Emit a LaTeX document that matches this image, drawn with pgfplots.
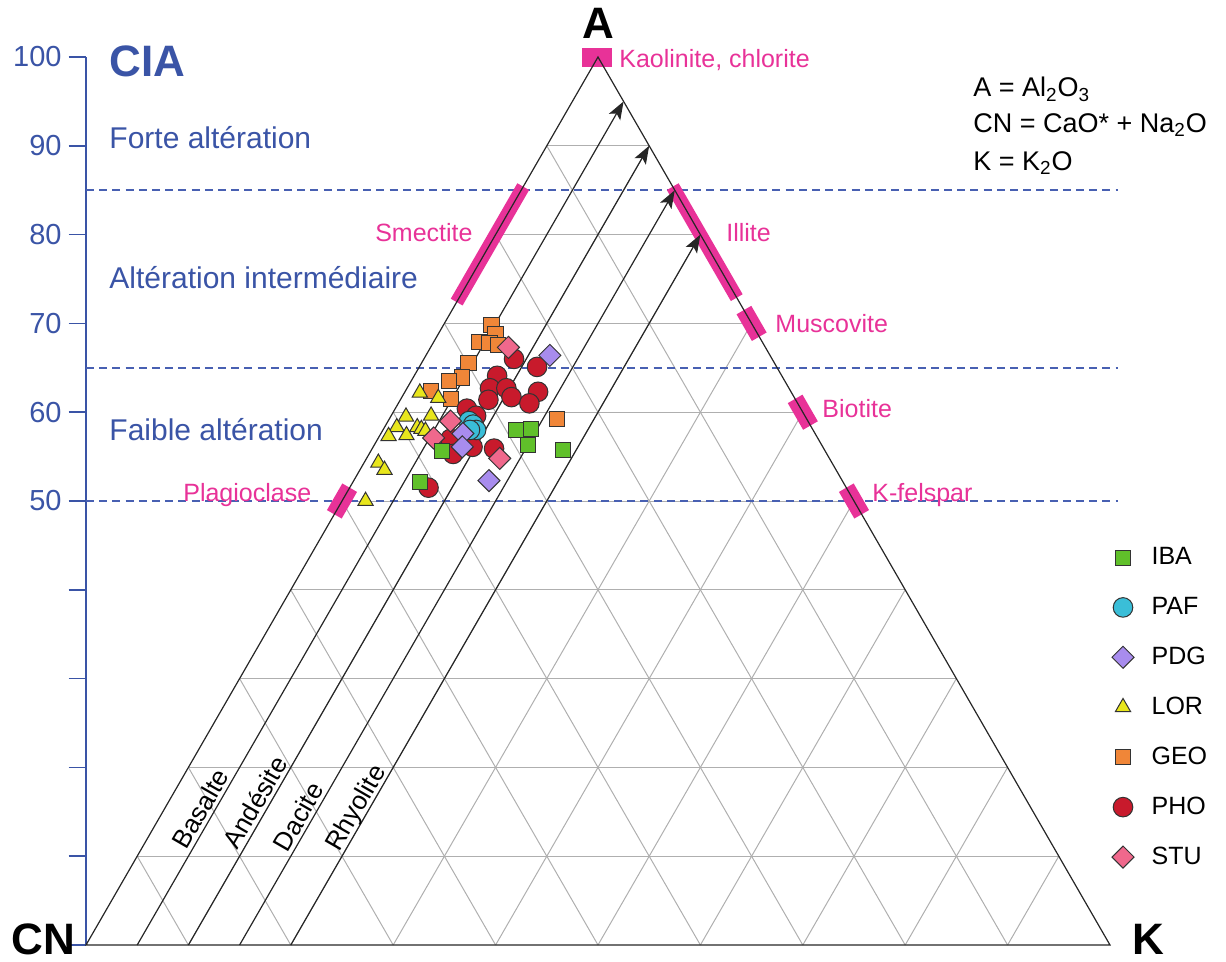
\documentclass[border=0pt]{standalone}
\usepackage{pgfplots}
\pgfplotsset{compat=1.18}
\usepackage{pgfplotstable}
\usepackage{fontspec}
\setmainfont{Liberation Sans}
\usetikzlibrary{arrows.meta}

\definecolor{ciablue}{RGB}{58,84,166}
\definecolor{dashblue}{RGB}{72,96,178}
\definecolor{mag}{RGB}{232,50,152}
\definecolor{gridgray}{RGB}{175,175,175}
\definecolor{cIBA}{RGB}{96,192,42}
\definecolor{cPAF}{RGB}{58,190,216}
\definecolor{cPDG}{RGB}{168,140,238}
\definecolor{cLOR}{RGB}{232,230,28}
\definecolor{cGEO}{RGB}{240,134,56}
\definecolor{cPHO}{RGB}{200,26,44}
\definecolor{cSTU}{RGB}{240,104,140}

% A = CIA (Al2O3 %), K = K2O %  (CN = 100 - A - K)
\pgfplotstableread{
A K
58.0 13.0
58.1 14.4
56.3 15.0
55.7 18.7
55.6 7.0
52.1 6.6
}\IBA
\pgfplotstableread{
A K
59.0 7.9
58.6 8.5
58.0 9.1
58.0 8.5
}\PAF
\pgfplotstableread{
A K
66.4 12.1
57.6 8.0
56.1 8.7
52.3 13.2
}\PDG
\pgfplotstableread{
A K
62.2 1.5
61.6 3.6
59.5 1.5
59.6 3.9
58.3 1.2
58.3 3.2
58.1 3.7
57.9 4.2
57.3 0.9
57.4 2.6
54.3 1.4
53.5 2.4
50.0 2.3
}\LOR
\pgfplotstableread{
A K
69.8 4.7
68.8 5.6
67.9 4.4
67.8 5.5
67.6 6.4
65.5 4.6
63.9 4.8
63.5 3.7
62.4 2.5
61.5 4.9
59.2 16.4
}\GEO
\pgfplotstableread{
A K
66.0 8.8
65.1 11.5
64.1 8.1
62.7 8.1
62.7 9.7
61.7 10.7
61.4 8.6
62.3 13.0
61.0 12.8
60.4 7.0
59.6 8.3
57.0 7.1
55.3 8.2
56.1 9.7
55.9 11.9
51.5 7.7
}\PHO
\pgfplotstableread{
A K
67.3 7.6
59.0 6.1
57.1 5.4
54.8 13.0
}\STU

\pgfplotsset{
  mk/.style={only marks,
    legend image code/.code={\path[draw=none,fill=none] (-6pt,-6pt) rectangle (6pt,6pt); \draw[##1] plot coordinates {(0pt,0pt)};}},
  sIBA/.style={mk, mark=square*, mark size=3.8pt, mark options={draw=black!80, line width=0.5pt, fill=cIBA}},
  sPAF/.style={mk, mark=*, mark size=4.9pt, mark options={draw=black!80, line width=0.5pt, fill=cPAF}},
  sPDG/.style={mk, mark=square*, mark size=3.9pt, mark options={draw=black!80, line width=0.5pt, fill=cPDG, rotate=45}},
  sLOR/.style={mk, mark=triangle*, mark size=4.4pt, mark options={draw=black!80, line width=0.5pt, fill=cLOR}},
  sGEO/.style={mk, mark=square*, mark size=3.8pt, mark options={draw=black!80, line width=0.5pt, fill=cGEO}},
  sPHO/.style={mk, mark=*, mark size=4.9pt, mark options={draw=black!80, line width=0.5pt, fill=cPHO}},
  sSTU/.style={mk, mark=square*, mark size=3.9pt, mark options={draw=black!80, line width=0.5pt, fill=cSTU, rotate=45}},
}

\begin{document}
\begin{tikzpicture}
\begin{axis}[
  scale only axis, width=613pt, height=480.5pt,
  xmin=-8.398, xmax=111.33, ymin=-1.802, ymax=106.42,
  hide axis, clip=false,
  legend cell align=left,
  legend style={at={(axis cs:100.1,45.2)}, anchor=north west, draw=none, fill=none,
    inner sep=0pt, outer sep=0pt, row sep=10.75pt, column sep=6.3pt,
    font=\fontsize{12.5}{15}\selectfont},
]
\coordinate (bbSW) at (rel axis cs:0,0);
\coordinate (bbNE) at (rel axis cs:1,1);

% legend entries
\addlegendimage{sIBA}\addlegendentry{IBA}
\addlegendimage{sPAF}\addlegendentry{PAF}
\addlegendimage{sPDG}\addlegendentry{PDG}
\addlegendimage{sLOR}\addlegendentry{LOR}
\addlegendimage{sGEO}\addlegendentry{GEO}
\addlegendimage{sPHO}\addlegendentry{PHO}
\addlegendimage{sSTU}\addlegendentry{STU}

% ternary grid
\pgfplotsinvokeforeach{1,...,9}{
  \draw[gridgray, line width=0.5pt] (axis cs:{#1*5},{#1*10}) -- (axis cs:{100-#1*5},{#1*10});
  \draw[gridgray, line width=0.5pt] (axis cs:{#1*10},0) -- (axis cs:{50+#1*5},{100-#1*10});
  \draw[gridgray, line width=0.5pt] (axis cs:{100-#1*10},0) -- (axis cs:{50-#1*5},{100-#1*10});
}

% CIA axis
\draw[ciablue, line width=0.75pt] (axis cs:0,0) -- (axis cs:0,100);
\pgfplotsinvokeforeach{0,10,...,100}{\draw[ciablue, line width=0.75pt] (axis cs:-1.7,#1) -- (axis cs:0,#1);}
\pgfplotsinvokeforeach{50,60,...,100}{\node[anchor=east, inner sep=0pt, text=ciablue, font=\fontsize{14.5}{17}\selectfont] at (axis cs:-2.34,#1) {#1};}

% dashed limits
\foreach \yy in {85,65,50}{
  \edef\tmp{\noexpand\draw[dashblue, line width=0.75pt, dash pattern=on 4pt off 2.6pt] (axis cs:0,\yy) -- (axis cs:100.8,\yy);}\tmp
}

% mineral bars
\fill[mag] (axis cs:48.44,98.87) rectangle (axis cs:51.37,101.01);
\draw[mag, line width=6.8pt] (axis cs:36.2,72.4) -- (axis cs:42.7,85.4);
\draw[mag, line width=6.8pt] (axis cs:63.55,72.9) -- (axis cs:57.3,85.4);
\draw[mag, line width=8.5pt] (axis cs:65.75,68.5) -- (axis cs:64.25,71.5);
\draw[mag, line width=8.5pt] (axis cs:70.75,58.5) -- (axis cs:69.25,61.5);
\draw[mag, line width=8.5pt] (axis cs:75.75,48.5) -- (axis cs:74.25,51.5);
\draw[mag, line width=8.5pt] (axis cs:24.25,48.5) -- (axis cs:25.75,51.5);

% triangle and rock trend lines
\draw[black!85, line width=0.6pt] (axis cs:0,0) -- (axis cs:50,100) -- (axis cs:100,0) -- cycle;
\pgfplotsinvokeforeach{5,10,15,20}{
  \draw[black!85, line width=0.6pt, -{Stealth[length=9pt,width=6.5pt,inset=2pt]}] (axis cs:#1,0) -- (axis cs:{(100+#1)/2},{100-#1});
}

% rock labels
\begin{scope}[every node/.style={rotate=60, anchor=south, inner sep=0pt, inner ysep=1.8pt, text depth=0pt, font=\fontsize{13}{15}\selectfont}]
\node at (axis cs:{5+14.6/2},14.6) {Basalte};
\node at (axis cs:{10+15.3/2},15.3) {Andésite};
\node at (axis cs:{15+13.7/2},13.7) {Dacite};
\node at (axis cs:{20+14.75/2},14.75) {Rhyolite};
\end{scope}

% mineral labels
\begin{scope}[every node/.style={inner sep=0pt, text=mag, font=\fontsize{12.5}{15}\selectfont}]
\node[anchor=base west] at (axis cs:52.05,98.87) {Kaolinite, chlorite};
\node[anchor=base east] at (axis cs:37.79,79.28) {Smectite};
\node[anchor=base west] at (axis cs:62.5,79.28) {Illite};
\node[anchor=base west] at (axis cs:67.29,69.03) {Muscovite};
\node[anchor=base west] at (axis cs:71.88,59.35) {Biotite};
\node[anchor=base west] at (axis cs:76.76,49.89) {K-felspar};
\node[anchor=base west] at (axis cs:9.47,49.89) {Plagioclase};
\end{scope}

% blue labels
\node[anchor=base west, inner sep=0pt, text=ciablue, font=\fontsize{22}{26}\selectfont\bfseries] at (axis cs:2.25,97.86) {CIA};
\begin{scope}[every node/.style={anchor=base west, inner sep=0pt, text=ciablue, font=\fontsize{15}{18}\selectfont}]
\node at (axis cs:2.25,89.75) {Forte altération};
\node at (axis cs:2.25,73.9) {Altération intermédiaire};
\node at (axis cs:2.25,56.87) {Faible altération};
\end{scope}

% apex labels
\begin{scope}[every node/.style={anchor=base, inner sep=0pt, font=\fontsize{22}{26}\selectfont\bfseries}]
\node at (axis cs:50,102.03) {A};
\node at (axis cs:-4.15,-1.1) {CN};
\node at (axis cs:103.71,-1.1) {K};
\end{scope}

% formula
\begin{scope}[every node/.style={anchor=base west, inner sep=0pt, font=\fontsize{13.5}{16}\selectfont}]
\node at (axis cs:86.62,95.5) {A = Al\textsubscript{2}O\textsubscript{3}};
\node at (axis cs:86.62,91.55) {CN = CaO* + Na\textsubscript{2}O};
\node at (axis cs:86.62,87.27) {K = K\textsubscript{2}O};
\end{scope}

% data
\addplot[sGEO, forget plot] table[x expr=\thisrow{K}+0.5*\thisrow{A}, y=A] {\GEO};
\addplot[sPHO, forget plot] table[x expr=\thisrow{K}+0.5*\thisrow{A}, y=A] {\PHO};
\addplot[sPAF, forget plot] table[x expr=\thisrow{K}+0.5*\thisrow{A}, y=A] {\PAF};
\addplot[sLOR, forget plot] table[x expr=\thisrow{K}+0.5*\thisrow{A}, y=A] {\LOR};
\addplot[sPDG, forget plot] table[x expr=\thisrow{K}+0.5*\thisrow{A}, y=A] {\PDG};
\addplot[sSTU, forget plot] table[x expr=\thisrow{K}+0.5*\thisrow{A}, y=A] {\STU};
\addplot[sIBA, forget plot] table[x expr=\thisrow{K}+0.5*\thisrow{A}, y=A] {\IBA};
\end{axis}
\pgfresetboundingbox
\useasboundingbox (bbSW) rectangle (bbNE);
\end{tikzpicture}
\end{document}
